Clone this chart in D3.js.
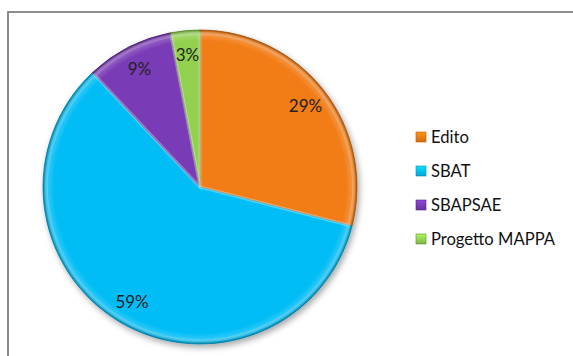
<!DOCTYPE html>
<html>
<head>
<meta charset="utf-8">
<script src="https://cdn.jsdelivr.net/npm/d3@7"></script>
<style>
  html, body { margin: 0; padding: 0; background: #fff; }
  svg { display: block; }
</style>
</head>
<body>
<svg id="chart" width="573" height="356"></svg>
<script>
// Share of records by source
const categories = ["Edito", "SBAT", "SBAPSAE", "Progetto MAPPA"];
const shares = [29, 59, 9, 3];
const sliceColors = ["#F27C12", "#05BDF6", "#7A3BB6", "#92D050"];
const edgeColors = ["#B85A08", "#0789B5", "#52227F", "#5E8E2C"];

const svg = d3.select("#chart");
const W = 573, H = 356;
const cx = 200, cy = 187, R = 157;
const fontFamily = "Lato, 'Open Sans', 'Noto Sans', sans-serif";

const defs = svg.append("defs");
const shadow = defs.append("filter").attr("id", "shadow")
  .attr("x", "-20%").attr("y", "-20%").attr("width", "140%").attr("height", "140%");
shadow.append("feDropShadow").attr("dx", 2).attr("dy", 3)
  .attr("stdDeviation", 3).attr("flood-color", "#000").attr("flood-opacity", 0.35);

// bevel highlight gradient along the rim
const rim = defs.append("radialGradient").attr("id", "rim")
  .attr("gradientUnits", "userSpaceOnUse")
  .attr("cx", 0).attr("cy", 0).attr("r", R);
rim.append("stop").attr("offset", "0.93").attr("stop-color", "#fff").attr("stop-opacity", 0);
rim.append("stop").attr("offset", "0.97").attr("stop-color", "#fff").attr("stop-opacity", 0.18);
rim.append("stop").attr("offset", "1").attr("stop-color", "#000").attr("stop-opacity", 0.25);

// legend swatch gradients
categories.forEach((c, i) => {
  const g = defs.append("linearGradient").attr("id", "sw" + i)
    .attr("x1", 0).attr("y1", 0).attr("x2", 0).attr("y2", 1);
  g.append("stop").attr("offset", 0).attr("stop-color", d3.color(sliceColors[i]).brighter(0.5));
  g.append("stop").attr("offset", 1).attr("stop-color", d3.color(sliceColors[i]).darker(0.4));
});

// chart frame
svg.append("rect")
  .attr("x", 8).attr("y", 12).attr("width", W).attr("height", H)
  .attr("fill", "#fff").attr("stroke", "#8c8c8c").attr("stroke-width", 2);

const pie = d3.pie().sort(null).value(d => d);
const arcs = pie(shares);
const arc = d3.arc().innerRadius(0).outerRadius(R);
const labelArc = d3.arc().innerRadius(R * 0.85).outerRadius(R * 0.85);

const g = svg.append("g").attr("transform", `translate(${cx},${cy})`);

g.append("g").attr("filter", "url(#shadow)")
  .selectAll("path").data(arcs).join("path")
  .attr("d", arc)
  .attr("fill", (d, i) => sliceColors[i])
  .attr("stroke", (d, i) => edgeColors[i])
  .attr("stroke-width", 0.8)
  .attr("stroke-linejoin", "round");

// rim shading
g.append("g").selectAll("path").data(arcs).join("path")
  .attr("d", arc)
  .attr("fill", "url(#rim)")
  .attr("pointer-events", "none");

// soft inner edge lines along slice boundaries
g.append("g").selectAll("path").data(arcs).join("path")
  .attr("d", d3.arc().innerRadius(0).outerRadius(R - 1))
  .attr("fill", "none")
  .attr("stroke", "#fff")
  .attr("stroke-opacity", 0.18)
  .attr("stroke-width", 3)
  .attr("transform", "scale(0.985)");

g.append("g").selectAll("text").data(arcs).join("text")
  .attr("transform", d => `translate(${labelArc.centroid(d)})`)
  .attr("text-anchor", "middle")
  .attr("dominant-baseline", "central")
  .attr("font-family", fontFamily)
  .attr("font-size", 17)
  .attr("fill", "#222")
  .text(d => d.data + "%");

// legend
const legendY = d3.scalePoint().domain(categories).range([137, 239]);
const legend = svg.append("g");
const items = legend.selectAll("g").data(categories).join("g")
  .attr("transform", d => `translate(416,${legendY(d)})`);
items.append("rect")
  .attr("x", 0).attr("y", -5).attr("width", 10).attr("height", 10)
  .attr("fill", (d, i) => `url(#sw${i})`)
  .attr("stroke", (d, i) => edgeColors[i]).attr("stroke-width", 0.6);
items.append("text")
  .attr("x", 15).attr("y", 0)
  .attr("dominant-baseline", "central")
  .attr("font-family", fontFamily)
  .attr("font-size", 16.6)
  .attr("fill", "#111")
  .text(d => d);
</script>
</body>
</html>
